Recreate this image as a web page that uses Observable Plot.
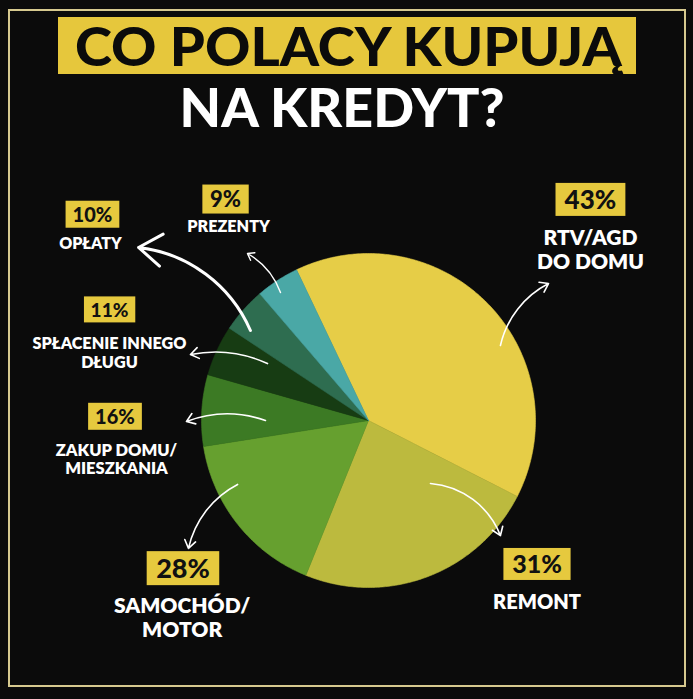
<!DOCTYPE html>
<html><head><meta charset="utf-8">
<script src="https://cdn.jsdelivr.net/npm/d3@7"></script>
<script src="https://cdn.jsdelivr.net/npm/@observablehq/plot@0.6"></script>
<style>
html,body{margin:0;padding:0;background:#0b0b0b;}
#wrap{position:relative;width:693px;height:699px;overflow:hidden;background:#0b0b0b;}
#frame{position:absolute;left:8px;top:9px;width:678px;height:678px;box-sizing:border-box;border:2px solid #d6c98f;pointer-events:none;}
#t1box{position:absolute;left:58px;top:17px;width:578px;height:57px;background:#e6c73c;}
.tl{position:absolute;white-space:nowrap;font-family:Lato,"Open Sans",sans-serif;font-weight:900;font-size:54px;line-height:65px;transform-origin:50% 50%;}
#t1{color:#0b0b0b;top:13px;}
#t2{color:#ffffff;top:74px;}
#chart{position:absolute;left:0;top:0;}
</style>
</head><body>
<div id="wrap">
  <div id="chart"></div>
  <div id="t1box"></div>
  <div id="frame"></div>
  <span class="tl" id="t1">CO POLACY KUPUJĄ</span>
  <span class="tl" id="t2">NA KREDYT?</span>
</div>
<script>
// ---- data ----
const categories = ["RTV/AGD DO DOMU","REMONT","SAMOCHÓD/MOTOR","ZAKUP DOMU/MIESZKANIA","SPŁACENIE INNEGO DŁUGU","OPŁATY","PREZENTY"];
const labelLines = ["RTV/AGD\nDO DOMU","REMONT","SAMOCHÓD/\nMOTOR","ZAKUP DOMU/\nMIESZKANIA","SPŁACENIE INNEGO\nDŁUGU","OPŁATY","PREZENTY"];
const percents = [43, 31, 28, 16, 11, 10, 9];
// share of the circle each slice takes in the picture (the drawing is not proportional to the labels)
const drawnShare = [39.6, 23.6, 16.4, 6.9, 4.9, 4.4, 4.2];
const colors = ["#e6cd47","#bcba3e","#66a02f","#3c7a24","#173c13","#2e6d50","#4aa8a6"];

// ---- layout (pie-radius units, centre = 0,0) ----
const pctLayout = [
  {x: 1.329, y: 1.317, fs: 26}, {x: 1.009, y: -0.868, fs: 25}, {x: -1.111, y: -0.892, fs: 27},
  {x: -1.518, y: 0.018, fs: 20}, {x: -1.551, y: 0.659, fs: 19}, {x: -1.653, y: 1.228, fs: 20},
  {x: -0.856, y: 1.320, fs: 22}
];
const nameLayout = [
  {x: 1.329, y: 1.024, fs: 21}, {x: 1.009, y: -1.087, fs: 20}, {x: -1.116, y: -1.177, fs: 21},
  {x: -1.509, y: -0.231, fs: 16.5}, {x: -1.551, y: 0.407, fs: 16.2}, {x: -1.665, y: 1.063, fs: 16},
  {x: -0.838, y: 1.162, fs: 16.2}
];
const arrowLayout = [
  {x1: 0.790, y1: 0.449, x2: 1.078, y2: 0.820, bend: 25, w: 1.6, head: 9},
  {x1: 0.371, y1: -0.377, x2: 0.790, y2: -0.689, bend: 32, w: 1.6, head: 9},
  {x1: -0.784, y1: -0.383, x2: -1.078, y2: -0.766, bend: -25, w: 1.6, head: 9},
  {x1: -0.617, y1: 0.000, x2: -1.090, y2: -0.006, bend: -20, w: 1.6, head: 9},
  {x1: -0.605, y1: 0.341, x2: -1.066, y2: 0.395, bend: -18, w: 1.6, head: 9},
  {x1: -0.707, y1: 0.539, x2: -1.377, y2: 1.036, bend: -30, w: 3, head: 14},
  {x1: -0.527, y1: 0.766, x2: -0.725, y2: 1.000, bend: -20, w: 1.4, head: 8}
];

const rows = categories.map((c, i) => ({key: c, share: drawnShare[i], pct: percents[i], name: labelLines[i]}));
const start = -25.5 * Math.PI / 180;
const arcs = d3.pie().sort(null).value(d => d.share).startAngle(start).endAngle(start + 2 * Math.PI)(rows);
const slicePts = arcs.flatMap(a => {
  const n = Math.max(2, Math.ceil((a.endAngle - a.startAngle) / 0.01));
  const pts = [{key: a.data.key, x: 0, y: 0}];
  for (let i = 0; i <= n; i++) {
    const t = a.startAngle + (a.endAngle - a.startAngle) * i / n;
    pts.push({key: a.data.key, x: Math.sin(t), y: Math.cos(t)});
  }
  pts.push({key: a.data.key, x: 0, y: 0});
  return pts;
});
const pctRows = rows.map((r, i) => ({...r, ...pctLayout[i], label: r.pct + "%"}));
const nameRows = rows.map((r, i) => ({...r, ...nameLayout[i]}));
const FONT = "Lato, 'Open Sans', sans-serif";

const plot = Plot.plot({
  width: 693, height: 699, margin: 0,
  x: {domain: [-1, 1], range: [201, 535], axis: null},
  y: {domain: [-1, 1], range: [587, 253], axis: null},
  color: {domain: categories, range: colors},
  style: {background: "transparent", overflow: "visible"},
  marks: [
    Plot.line(slicePts, {x: "x", y: "y", z: "key", fill: "key", stroke: "key", strokeWidth: 0.6}),
    ...arrowLayout.map(a => Plot.arrow([a], {x1: "x1", y1: "y1", x2: "x2", y2: "y2", bend: a.bend,
      stroke: "white", strokeWidth: a.w, headLength: a.head, headAngle: 70})),
    Plot.text(pctRows, {x: "x", y: "y", text: "label", fontSize: "fs", fill: "#111",
      fontFamily: FONT, fontWeight: 900, className: "pct"}),
    Plot.text(nameRows, {x: "x", y: "y", text: "name", fontSize: "fs", fill: "white",
      fontFamily: FONT, fontWeight: 800, lineHeight: 1.13})
  ]
});
document.getElementById("chart").appendChild(plot);

// yellow boxes behind the percentage labels
function addBoxes() {
  plot.querySelectorAll("rect.pctbox").forEach(r => r.remove());
  const texts = plot.querySelectorAll("g.pct text");
  texts.forEach(t => {
    const b = t.getBBox();
    const fs = parseFloat(t.getAttribute("font-size")) || 20;
    const padX = fs * 0.35, h = fs + 7;
    const cx = b.x + b.width / 2, cy = b.y + b.height / 2 + fs * 0.02;
    const r = document.createElementNS("http://www.w3.org/2000/svg", "rect");
    r.setAttribute("class", "pctbox");
    r.setAttribute("x", cx - b.width / 2 - padX);
    r.setAttribute("y", cy - h / 2);
    r.setAttribute("width", b.width + 2 * padX);
    r.setAttribute("height", h);
    r.setAttribute("fill", "#e6c93e");
    if (t.getAttribute("transform")) r.setAttribute("transform", t.getAttribute("transform"));
    t.parentNode.insertBefore(r, t);
  });
}
function fitTitle() {
  const specs = [["t1", 348.5, 547], ["t2", 342.5, 325]];
  specs.forEach(([id, cx, w]) => {
    const el = document.getElementById(id);
    el.style.transform = "none";
    const cw = el.getBoundingClientRect().width;
    el.style.left = (cx - cw / 2) + "px";
    el.style.transform = "scaleX(" + (w / cw) + ")";
  });
}
addBoxes(); fitTitle();
if (document.fonts && document.fonts.ready) document.fonts.ready.then(() => { addBoxes(); fitTitle(); });
</script>
</body></html>
